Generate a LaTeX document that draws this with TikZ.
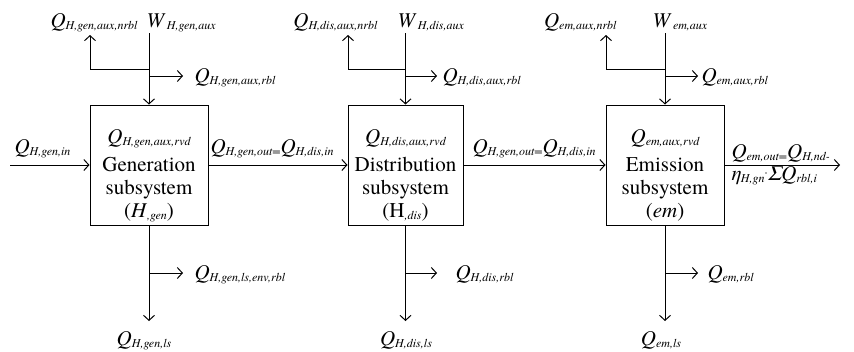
\documentclass[tikz,border=0pt]{standalone}
\usepackage{fontspec}
\setmainfont{TeX Gyre Termes}
\usetikzlibrary{arrows.meta}
\newcommand\qq[2]{{\fontsize{21}{24}\selectfont\itshape #1}\raisebox{-2.5pt}{\fontsize{12}{14}\selectfont\itshape #2}}
\newcommand\ww[2]{{\fontsize{21}{24}\selectfont\itshape #1}\hspace{3pt}\raisebox{-2.5pt}{\fontsize{12}{14}\selectfont\itshape #2}}
\newcommand\sbs[1]{\raisebox{-2.5pt}{\fontsize{12}{14}\selectfont\itshape #1}}
\begin{document}
\begin{tikzpicture}[x=1pt,y=-1pt,
  line width=1pt,
  arr/.style={-{Straight Barb[length=5pt,width=11pt]}},
  box/.style={draw,minimum height=120pt,inner sep=0pt},
  lab/.style={inner sep=0pt},
  body/.style={inner sep=0pt,anchor=base,font=\fontsize{21}{24}\selectfont}]
\useasboundingbox (0,0) rectangle (854,351);
% boxes
\node[box,minimum width=118pt] (g) at (149,165) {};
\node[box,minimum width=115pt] (d) at (405.5,165) {};
\node[box,minimum width=118pt] (e) at (665,165) {};
% box texts
\node[lab,anchor=base] (g-rvd) at (149,143) {\qq{Q}{H,gen,aux,rvd}};
\node[body] (g-t1) at (149,171) {Generation};
\node[body] (g-t2) at (149,194) {subsystem};
\node[body] (g-t3) at (149,217) {(\textit{H}\sbs{,gen})};
\node[lab,anchor=base] (d-rvd) at (405.5,143) {\qq{Q}{H,dis,aux,rvd}};
\node[body] (d-t1) at (405.5,171) {Distribution};
\node[body] (d-t2) at (405.5,194) {subsystem};
\node[body] (d-t3) at (405.5,217) {(H\sbs{,dis})};
\node[lab,anchor=base] (e-rvd) at (665,143) {\qq{Q}{em,aux,rvd}};
\node[body] (e-t1) at (665,171) {Emission};
\node[body] (e-t2) at (665,194) {subsystem};
\node[body] (e-t3) at (665,217) {(\textit{em})};
% coordinates generation
\coordinate (g-top) at (149,33);
\coordinate (g-j1) at (149,69);
\coordinate (g-nr) at (90,35);
\coordinate (g-j2) at (149,76);
\coordinate (g-rb) at (183,76);
\coordinate (g-bot) at (149,321);
\coordinate (g-j3) at (149,273);
\coordinate (g-lr) at (183,273);
% distribution
\coordinate (d-top) at (405.5,33);
\coordinate (d-j1) at (405.5,69);
\coordinate (d-nr) at (348,35);
\coordinate (d-j2) at (405.5,76);
\coordinate (d-rb) at (437,76);
\coordinate (d-bot) at (405.5,321);
\coordinate (d-j3) at (405.5,273);
\coordinate (d-lr) at (437,273);
% emission
\coordinate (e-top) at (665,33);
\coordinate (e-j1) at (665,69);
\coordinate (e-nr) at (606,35);
\coordinate (e-j2) at (665,76);
\coordinate (e-rb) at (698,76);
\coordinate (e-bot) at (665,321);
\coordinate (e-j3) at (665,273);
\coordinate (e-lr) at (698,273);
\coordinate (in) at (10,165);
\coordinate (out) at (840,165);
% connectors
\foreach \b in {g,d,e}{
  \draw[arr] (\b-top) -- (\b.north);
  \draw[arr] (\b-j1) -| (\b-nr);
  \draw[arr] (\b-j2) -- (\b-rb);
  \draw[arr] (\b.south) -- (\b-bot);
  \draw[arr] (\b-j3) -- (\b-lr);
}
\draw[arr] (in) -- (g.west);
\draw[arr] (g.east) -- (d.west);
\draw[arr] (d.east) -- (e.west);
\draw[arr] (e.east) -- (out);
% labels
\node[lab,anchor=base east] (g-nrbl) at (138,27) {\qq{Q}{H,gen,aux,nrbl}};
\node[lab,anchor=base west] (g-w) at (146,27) {\ww{W}{H,gen,aux}};
\node[lab,anchor=base west] (g-rbl) at (194,82) {\qq{Q}{H,gen,aux,rbl}};
\node[lab,anchor=base west] (g-lsrbl) at (194,279) {\qq{Q}{H,gen,ls,env,rbl}};
\node[lab,anchor=base] (g-ls) at (144,345) {\qq{Q}{H,gen,ls}};
\node[lab,anchor=base east] (d-nrbl) at (378,27) {\qq{Q}{H,dis,aux,nrbl}};
\node[lab,anchor=base west] (d-w) at (397,27) {\ww{W}{H,dis,aux}};
\node[lab,anchor=base west] (d-rbl) at (442,82) {\qq{Q}{H,dis,aux,rbl}};
\node[lab,anchor=base west] (d-lsrbl) at (455,279) {\qq{Q}{H,dis,rbl}};
\node[lab,anchor=base] (d-ls) at (406,345) {\qq{Q}{H,dis,ls}};
\node[lab,anchor=base east] (e-nrbl) at (617,27) {\qq{Q}{em,aux,nrbl}};
\node[lab,anchor=base west] (e-w) at (652,27) {\ww{W}{em,aux}};
\node[lab,anchor=base west] (e-rbl) at (701,82) {\qq{Q}{em,aux,rbl}};
\node[lab,anchor=base west] (e-lsrbl) at (707,279) {\qq{Q}{em,rbl}};
\node[lab,anchor=base] (e-ls) at (661,345) {\qq{Q}{em,ls}};
\node[lab,anchor=base west] (l-in) at (14,153) {\qq{Q}{H,gen,in}};
\node[lab,anchor=base west] (l-gd) at (210,153) {\qq{Q}{H,gen,out=}\qq{Q}{H,dis,in}};
\node[lab,anchor=base west] (l-de) at (472,153) {\qq{Q}{H,gen,out=}\qq{Q}{H,dis,in}};
\node[lab,anchor=base west] (l-o1) at (731,158) {\qq{Q}{em,out=}\qq{Q}{H,nd-}};
\node[lab,anchor=base west] (l-o2) at (731,180) {\qq{η}{H,gn}\raisebox{4pt}{\fontsize{12}{14}\selectfont·}{\fontsize{21}{24}\selectfont\itshape Σ}\qq{Q}{rbl,i}};
\end{tikzpicture}
\end{document}
